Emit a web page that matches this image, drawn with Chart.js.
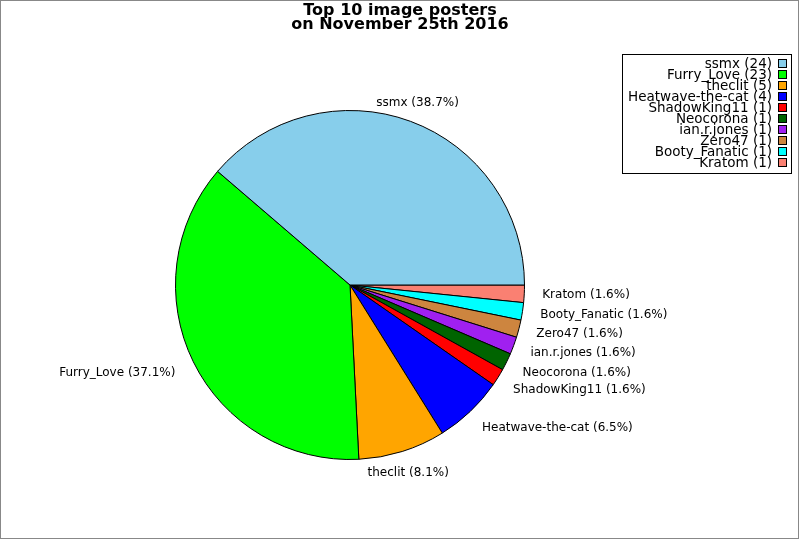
<!DOCTYPE html>
<html>
<head>
<meta charset="utf-8">
<script src="https://cdn.jsdelivr.net/npm/chart.js@4.4.0/dist/chart.umd.min.js"></script>
<style>
  html, body { margin: 0; padding: 0; background: #fff; }
  #wrap { width: 800px; height: 540px; position: relative; }
</style>
</head>
<body>
<div id="wrap"><canvas id="myChart" width="800" height="540"></canvas></div>
<script>
const titleLines = ["Top 10 image posters", "on November 25th 2016"];
const posters = ["ssmx", "Furry_Love", "theclit", "Heatwave-the-cat", "ShadowKing11",
  "Neocorona", "ian.r.jones", "Zero47", "Booty_Fanatic", "Kratom"];
const imageCounts = [24, 23, 5, 4, 1, 1, 1, 1, 1, 1];
const sliceColors = ["#87ceeb", "#00ff00", "#ffa500", "#0000ff", "#ff0000",
  "#006400", "#a020f0", "#cd853f", "#00ffff", "#fa8072"];

const FONT = "'DejaVu Sans', sans-serif";
const total = imageCounts.reduce((a, b) => a + b, 0);

// pie is drawn counter-clockwise from 3 o'clock in the original,
// so feed Chart.js the reversed order going clockwise
const revLabels = posters.slice().reverse();
const revValues = imageCounts.slice().reverse();
const revColors = sliceColors.slice().reverse();

const decorations = {
  id: "decorations",
  afterDraw(chart) {
    const ctx = chart.ctx;
    ctx.save();

    // outer frame
    ctx.strokeStyle = "#888";
    ctx.lineWidth = 1;
    ctx.strokeRect(0.5, 0.5, 798, 538);

    // title
    ctx.fillStyle = "#000";
    ctx.font = "bold 16px " + FONT;
    ctx.textAlign = "center";
    ctx.textBaseline = "middle";
    ctx.fillText(titleLines[0], 400, 11);
    ctx.fillText(titleLines[1], 400, 25);

    // slice labels
    ctx.font = "12px " + FONT;
    const meta = chart.getDatasetMeta(0);
    meta.data.forEach((arc, i) => {
      const p = arc.getProps(["x", "y", "startAngle", "endAngle", "outerRadius"], true);
      const mid = (p.startAngle + p.endAngle) / 2;
      const r = p.outerRadius + 20;
      const c = Math.cos(mid), s = Math.sin(mid);
      const lx = p.x + c * r;
      const ly = p.y + s * r + (s > 0.4 ? 2 : 0);
      ctx.textAlign = Math.abs(c) < 0.5 ? "center" : (c > 0 ? "left" : "right");
      const pct = (revValues[i] / total * 100).toFixed(1);
      ctx.fillText(revLabels[i] + " (" + pct + "%)", lx - (c > 0.5 ? 2 : 0), ly);
    });

    // legend box
    ctx.strokeStyle = "#000";
    ctx.strokeRect(622.5, 54.5, 169, 119);
    ctx.font = "13.5px " + FONT;
    ctx.textAlign = "right";
    posters.forEach((name, i) => {
      const y = 64 + i * 11;
      ctx.fillStyle = "#000";
      ctx.fillText(name + " (" + imageCounts[i] + ")", 772, y);
      ctx.fillStyle = sliceColors[i];
      ctx.fillRect(778.5, y - 4.5, 8, 8);
      ctx.strokeRect(778.5, y - 4.5, 8, 8);
    });

    ctx.restore();
  }
};

const ctx = document.getElementById("myChart").getContext("2d");
new Chart(ctx, {
  type: "pie",
  data: {
    labels: revLabels,
    datasets: [{
      data: revValues,
      backgroundColor: revColors,
      borderColor: "#000",
      borderWidth: 1,
    }],
  },
  options: {
    responsive: false,
    animation: false,
    rotation: 90,
    layout: { padding: { left: 175, right: 275, top: 110, bottom: 80 } },
    plugins: {
      legend: { display: false },
      title: { display: false },
      tooltip: { enabled: false },
    },
  },
  plugins: [decorations],
});
</script>
</body>
</html>
